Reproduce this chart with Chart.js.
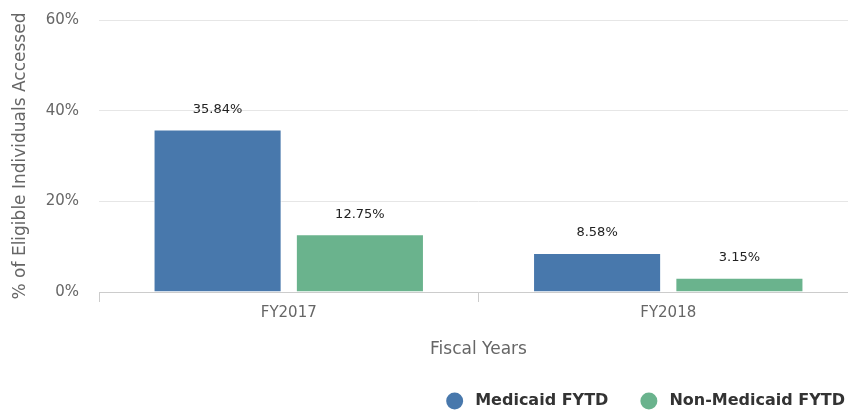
<!DOCTYPE html>
<html>
<head>
<meta charset="utf-8">
<script src="https://cdn.jsdelivr.net/npm/chart.js@4.4.1/dist/chart.umd.min.js"></script>
<style>
  html, body { margin: 0; padding: 0; background: #fff; overflow: hidden; }
  #wrap { width: 858px; height: 423px; margin-top: -9px; }
</style>
</head>
<body>
<div id="wrap"><canvas id="chart"></canvas></div>
<script>
// fiscal year access rates, in percent
const years = ["FY2017", "FY2018"]
const medicaid = [35.84, 8.58]
const nonMedicaid = [12.75, 3.15]
const yTicks = [0, 20, 40, 60]

const FONT = "'DejaVu Sans', sans-serif"

// value labels above each bar
const barLabels = {
    id: "barLabels",
    afterDatasetsDraw(chart) {
        const ctx = chart.ctx
        ctx.save()
        ctx.font = "13px " + FONT
        ctx.fillStyle = "#222"
        ctx.textAlign = "center"
        ctx.textBaseline = "middle"
        chart.data.datasets.forEach((ds, i) => {
            chart.getDatasetMeta(i).data.forEach((bar, j) => {
                ctx.fillText(ds.data[j].toFixed(2) + "%", bar.x, bar.y - 20)
            })
        })
        ctx.restore()
    }
}

// legend row at the bottom right, circles + bold names
const bottomLegend = {
    id: "bottomLegend",
    afterDraw(chart) {
        const ctx = chart.ctx
        const y = chart.height - 13
        const r = 8.5
        const gap = 12
        const spacing = 32
        ctx.save()
        ctx.font = "bold 16px " + FONT
        ctx.textBaseline = "middle"
        ctx.textAlign = "left"
        let x = 845
        const items = chart.data.datasets.slice().reverse()
        items.forEach(ds => {
            const w = ctx.measureText(ds.label).width
            const tx = x - w
            ctx.fillStyle = "#333"
            ctx.fillText(ds.label, tx, y)
            ctx.fillStyle = ds.backgroundColor
            ctx.beginPath()
            ctx.arc(tx - gap - r, y, r, 0, Math.PI * 2)
            ctx.fill()
            x = tx - gap - 2 * r - spacing
        })
        ctx.restore()
    }
}

const chart = new Chart(document.getElementById("chart"), {
    type: "bar",
    data: {
        labels: years,
        datasets: [
            { label: "Medicaid FYTD", data: medicaid, backgroundColor: "#4878ac", borderColor: "#fff", borderWidth: 1 },
            { label: "Non-Medicaid FYTD", data: nonMedicaid, backgroundColor: "#6ab38d", borderColor: "#fff", borderWidth: 1 }
        ]
    },
    options: {
        responsive: true,
        maintainAspectRatio: false,
        animation: false,
        categoryPercentage: 0.75,
        barPercentage: 0.9,
        layout: { padding: { top: 0, left: 10, right: 0, bottom: 50 } },
        plugins: {
            tooltip: { enabled: false },
            legend: { display: false }
        },
        scales: {
            x: {
                offset: true,
                grid: { drawOnChartArea: false, tickLength: 10, color: "#ccc" },
                border: { color: "#ccc" },
                ticks: { color: "#666", padding: 2, font: { family: FONT, size: 15 } },
                title: {
                    display: true, text: "Fiscal Years", color: "#666",
                    font: { family: FONT, size: 17 }, padding: { top: 10 }
                },
                afterFit(scale) { scale.height = 72 }
            },
            y: {
                min: 0,
                max: 60,
                afterBuildTicks(scale) { scale.ticks = yTicks.map(v => ({ value: v })) },
                grid: { color: "#e6e6e6", drawTicks: false },
                border: { display: false },
                ticks: {
                    color: "#666", padding: 20,
                    font: { family: FONT, size: 15 },
                    callback: v => v + "%"
                },
                title: {
                    display: true, text: "% of Eligible Individuals Accessed", color: "#666",
                    font: { family: FONT, size: 17 }, padding: 0
                },
                afterFit(scale) { scale.width = 89 }
            }
        }
    },
    plugins: [barLabels, bottomLegend]
})
</script>
</body>
</html>
